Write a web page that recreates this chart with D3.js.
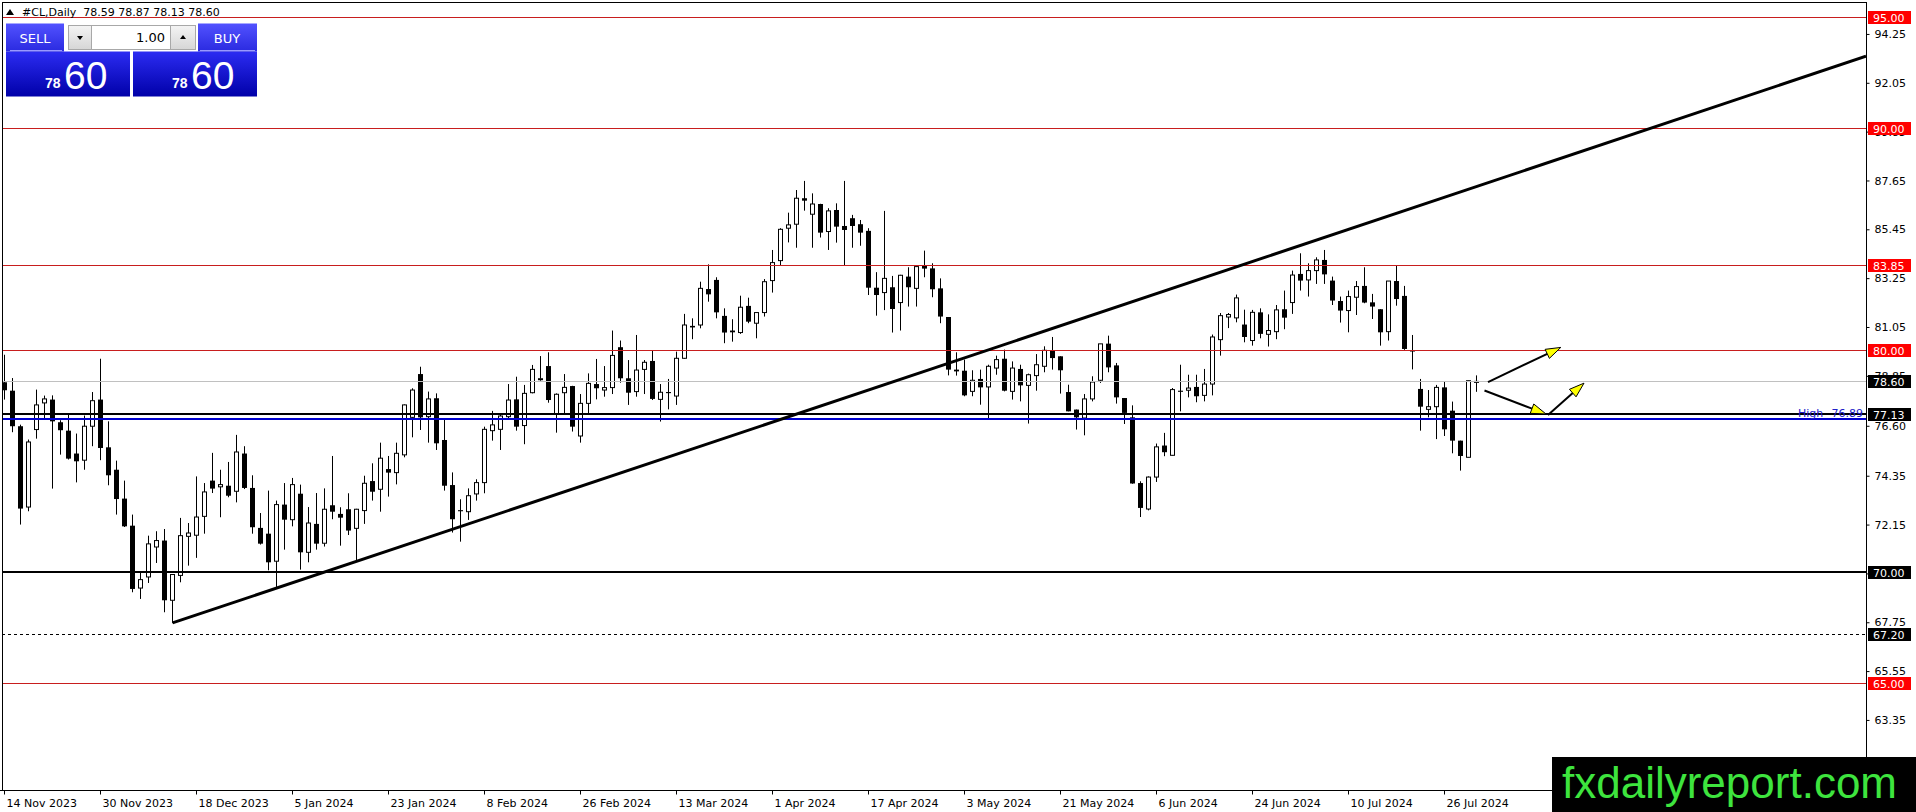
<!DOCTYPE html>
<html lang="en">
<head>
<meta charset="UTF-8">
<title>#CL,Daily</title>
<style>
  html, body { margin: 0; padding: 0; background: #fff; }
  svg { display: block; font-family: "DejaVu Sans", sans-serif; }
</style>
</head>
<body>
<svg width="1916" height="812" id="svg"></svg>
<script src="https://d3js.org/d3.v7.min.js"></script>
<script>
// daily bars, 14 Nov 2023 .. 1 Aug 2024
const opens = [
  78.56, 78.18, 76.58, 72.94, 76.43, 77.63, 77.78, 76.76, 76.38, 75.35,
  75.05, 76.58, 77.78, 75.63, 74.62, 73.32, 72.10, 69.29, 69.79, 71.14,
  71.43, 68.74, 69.86, 71.62, 71.67, 72.52, 74.13, 73.85, 73.90, 73.65,
  75.35, 73.80, 72.00, 71.74, 70.50, 73.05, 72.37, 73.54, 70.90, 72.18,
  71.31, 73.02, 72.63, 72.84, 71.98, 72.78, 74.11, 73.74, 74.65, 74.49,
  75.29, 76.98, 78.93, 77.01, 77.84, 75.96, 73.93, 72.80, 72.73, 73.53,
  74.04, 76.38, 76.44, 77.01, 77.79, 76.61, 78.09, 78.68, 79.29, 77.13,
  78.09, 78.39, 76.14, 77.61, 78.48, 78.21, 78.32, 80.14, 78.74, 78.14,
  79.14, 79.52, 77.79, 78.12, 77.94, 79.64, 81.10, 81.14, 82.76, 83.17,
  81.55, 80.89, 80.80, 82.00, 81.22, 81.70, 83.14, 84.04, 85.50, 85.68,
  86.85, 86.13, 86.59, 85.35, 86.32, 85.60, 85.95, 85.68, 85.38, 82.82,
  82.60, 82.84, 82.15, 83.32, 82.79, 83.80, 83.69, 82.79, 81.50, 79.13,
  79.08, 78.15, 78.71, 78.35, 79.20, 79.62, 78.15, 79.16, 78.42, 78.86,
  79.28, 80.00, 79.73, 78.12, 77.33, 76.95, 77.81, 78.65, 80.30, 79.32,
  77.85, 76.98, 74.02, 72.85, 74.29, 75.71, 75.27, 78.18, 78.20, 78.35,
  77.97, 78.48, 80.48, 81.50, 81.46, 81.16, 80.44, 81.71, 80.72, 80.84,
  81.85, 82.15, 83.44, 83.17, 83.59, 84.07, 83.14, 82.22, 81.79, 82.39,
  82.90, 82.16, 81.85, 80.84, 83.12, 82.45, 79.99, 78.26, 77.34, 77.46,
  78.33, 77.28, 75.93, 75.18, 78.59
]
const highs = [
  79.80, 78.75, 76.65, 75.98, 78.23, 77.96, 77.97, 76.85, 77.10, 76.25,
  77.06, 78.12, 79.62, 76.80, 75.03, 74.13, 72.60, 70.04, 71.65, 71.85,
  71.95, 69.92, 72.45, 72.22, 74.32, 74.02, 75.38, 74.62, 74.97, 76.19,
  75.68, 74.37, 72.67, 73.68, 73.23, 74.02, 74.25, 73.95, 72.94, 73.57,
  73.78, 75.24, 72.93, 73.56, 72.86, 74.35, 74.91, 75.84, 75.24, 75.84,
  77.56, 78.29, 79.26, 78.14, 78.06, 76.94, 74.50, 73.29, 73.78, 74.19,
  76.56, 77.27, 77.16, 78.48, 78.81, 78.44, 79.34, 79.74, 79.91, 78.06,
  78.93, 78.40, 78.03, 78.96, 79.61, 79.29, 80.89, 80.44, 79.56, 80.69,
  79.56, 79.98, 78.48, 78.71, 79.94, 81.64, 81.44, 83.09, 83.87, 83.29,
  81.89, 81.40, 82.46, 82.37, 81.70, 83.21, 84.52, 85.50, 86.20, 87.22,
  87.63, 87.07, 86.60, 86.40, 86.62, 87.63, 86.10, 85.87, 85.50, 83.52,
  86.28, 83.35, 83.40, 83.74, 83.77, 84.49, 83.92, 83.24, 81.50, 79.91,
  79.58, 79.10, 79.13, 79.35, 79.76, 80.03, 79.50, 79.35, 78.95, 79.83,
  80.18, 80.60, 79.73, 78.45, 77.33, 78.03, 78.83, 80.29, 80.66, 79.43,
  77.85, 77.52, 74.10, 74.32, 75.80, 76.28, 78.30, 79.35, 78.90, 78.90,
  79.16, 80.71, 81.68, 81.68, 82.51, 81.83, 81.82, 81.89, 81.62, 82.04,
  82.69, 83.59, 84.37, 83.92, 84.19, 84.52, 83.32, 82.42, 82.69, 83.12,
  83.74, 82.54, 81.85, 83.12, 83.81, 82.90, 80.69, 78.71, 78.21, 78.44,
  78.59, 77.69, 75.93, 78.63, 78.87
]
const lows = [
  77.78, 76.31, 72.15, 72.75, 76.02, 76.95, 73.77, 75.30, 75.08, 74.05,
  74.62, 75.68, 75.05, 73.92, 72.60, 72.04, 69.10, 68.80, 69.52, 70.42,
  68.20, 67.72, 69.55, 70.30, 70.65, 71.74, 73.57, 72.48, 73.38, 73.15,
  73.75, 71.74, 71.25, 70.09, 69.34, 71.02, 72.07, 70.12, 70.45, 71.02,
  71.16, 72.39, 71.20, 71.68, 70.48, 72.18, 73.23, 72.73, 73.41, 73.96,
  75.18, 76.08, 76.41, 75.84, 75.51, 73.68, 71.79, 71.38, 72.36, 73.23,
  73.56, 75.93, 75.51, 76.94, 76.38, 75.77, 78.06, 78.63, 77.64, 76.29,
  77.13, 76.34, 75.84, 77.16, 77.79, 77.91, 78.03, 78.54, 77.54, 77.91,
  78.03, 77.76, 76.79, 77.34, 77.54, 79.62, 80.50, 80.99, 82.19, 81.44,
  80.32, 80.39, 80.74, 81.22, 80.54, 81.52, 82.60, 83.84, 84.86, 84.62,
  86.29, 84.62, 85.08, 84.52, 84.85, 83.84, 84.62, 84.71, 82.49, 81.56,
  81.81, 80.80, 80.89, 81.97, 81.97, 83.29, 82.39, 81.22, 78.87, 78.86,
  77.93, 77.93, 77.55, 76.95, 78.90, 78.15, 77.78, 77.70, 76.70, 78.18,
  79.01, 79.13, 78.05, 77.25, 76.43, 76.17, 77.70, 78.53, 79.01, 77.60,
  76.68, 73.99, 72.49, 72.79, 74.07, 75.23, 75.26, 77.25, 77.88, 77.66,
  77.70, 77.97, 79.76, 81.00, 81.26, 80.36, 80.21, 80.54, 80.17, 80.50,
  80.95, 81.64, 82.69, 82.42, 82.99, 82.99, 82.04, 81.25, 80.81, 81.59,
  82.12, 81.41, 80.21, 80.44, 82.01, 80.02, 79.14, 76.38, 76.98, 76.00,
  76.14, 75.36, 74.58, 75.18, 78.13
]
const closes = [
  78.20, 76.58, 72.87, 75.87, 77.54, 77.81, 76.80, 76.40, 75.12, 75.00,
  76.58, 77.73, 75.60, 74.37, 73.30, 72.07, 69.25, 69.67, 71.28, 71.43,
  68.74, 69.90, 71.65, 71.77, 72.49, 73.62, 73.77, 73.95, 73.45, 75.42,
  73.80, 72.03, 71.29, 70.45, 73.05, 72.37, 73.95, 70.90, 72.22, 71.29,
  72.84, 72.73, 72.46, 71.88, 72.84, 74.01, 73.63, 75.14, 74.49, 75.36,
  77.54, 78.21, 76.98, 77.81, 75.81, 73.90, 72.39, 72.75, 73.45, 74.04,
  76.44, 76.64, 77.04, 77.76, 76.56, 78.06, 79.14, 78.72, 77.76, 78.02,
  78.33, 76.56, 77.61, 78.51, 78.29, 78.32, 79.77, 78.74, 78.09, 79.11,
  79.46, 77.81, 78.11, 78.07, 79.64, 81.14, 81.03, 82.79, 82.52, 81.71,
  80.80, 80.81, 81.94, 81.29, 81.70, 83.09, 83.95, 85.45, 85.65, 86.85,
  86.74, 86.59, 85.30, 86.28, 85.57, 85.42, 85.60, 85.30, 82.82, 82.49,
  83.24, 81.86, 83.38, 82.84, 83.77, 83.68, 82.75, 81.52, 79.13, 79.05,
  77.97, 78.65, 78.33, 79.28, 79.58, 78.18, 79.20, 78.42, 78.90, 79.35,
  80.00, 79.65, 79.10, 77.25, 76.98, 77.81, 78.57, 80.29, 79.23, 77.88,
  77.18, 74.00, 72.90, 74.29, 75.65, 75.41, 78.23, 78.13, 78.30, 77.93,
  78.48, 80.60, 81.56, 81.61, 82.36, 80.60, 81.71, 80.74, 80.89, 81.82,
  81.47, 83.39, 83.14, 83.59, 84.07, 83.42, 82.24, 81.79, 82.42, 82.87,
  82.15, 81.97, 80.81, 83.12, 82.31, 80.06, 79.95, 77.46, 77.46, 78.33,
  76.44, 75.93, 75.24, 78.63, 78.60
]

// time scale labels, one every 12 bars
const dateLabels = ["14 Nov 2023", "30 Nov 2023", "18 Dec 2023", "5 Jan 2024", "23 Jan 2024",
  "8 Feb 2024", "26 Feb 2024", "13 Mar 2024", "1 Apr 2024", "17 Apr 2024", "3 May 2024",
  "21 May 2024", "6 Jun 2024", "24 Jun 2024", "10 Jul 2024", "26 Jul 2024"]
const dateStep = 12

// price scale labels
const priceTicks = [94.25, 92.05, 89.85, 87.65, 85.45, 83.25, 81.05, 78.85, 76.60, 74.35, 72.15, 69.95, 67.75, 65.55, 63.35]

// horizontal levels drawn on the chart
const redLevels = [95.00, 90.00, 83.85, 80.00, 65.00]
const blackLevels = [77.13, 70.00]
const dottedLevel = 67.20
const bidPrice = 78.60
const highLevel = 76.89

// trend line (bar index, price) and the hand drawn arrows
const trendPoints = [[21, 67.72], [154.8, 83.85]]
const arrows = [
  [[185.5, 78.57], [194.6, 80.13]],
  [[185.06, 78.19], [192.75, 77.13]],
  [[193.0, 77.09], [197.5, 78.52]]
]

const header = "#CL,Daily  78.59 78.87 78.13 78.60"
const lotSize = "1.00"
const bidBig = ["78", "60"]
const askBig = ["78", "60"]

// ------------------------------------------------------------
const svg = d3.select("svg#svg")
const W = +svg.attr("width")
const H = +svg.attr("height")
const plot = { left: 2, top: 2, right: 1866, bottom: 790 }

const xScale = d3.scaleLinear().domain([0, 184]).range([4, 1476])
const yScale = d3.scaleLinear().domain([90, 70]).range([128.3, 572.3])

svg.append("rect").attr("width", W).attr("height", H).attr("fill", "#fff")

const defs = svg.append("defs")
defs.append("clipPath").attr("id", "plotClip").append("rect")
  .attr("x", plot.left).attr("y", plot.top)
  .attr("width", plot.right - plot.left).attr("height", plot.bottom - plot.top)

const g = svg.append("g").attr("clip-path", "url(#plotClip)")

// candles
const bars = opens.map((o, i) => ({ i: i, o: o, h: highs[i], l: lows[i], c: closes[i] }))
const px = d => Math.round(xScale(d.i))

g.append("g").selectAll("line").data(bars).join("line")
  .attr("x1", d => px(d) + 0.5).attr("x2", d => px(d) + 0.5)
  .attr("y1", d => yScale(d.h)).attr("y2", d => yScale(d.l))
  .attr("stroke", "#000").attr("stroke-width", 1)

g.append("g").selectAll("rect").data(bars).join("rect")
  .attr("x", d => d.c >= d.o ? px(d) - 1.5 : px(d) - 2)
  .attr("width", d => d.c >= d.o ? 4 : 5)
  .attr("y", d => yScale(Math.max(d.o, d.c)))
  .attr("height", d => Math.max(1, yScale(Math.min(d.o, d.c)) - yScale(Math.max(d.o, d.c))))
  .attr("fill", d => d.c >= d.o ? "#fff" : "#000")
  .attr("stroke", d => d.c >= d.o ? "#000" : "none")
  .attr("stroke-width", 1)

// levels
const hline = (p, color, w, dash) => {
  const yy = Math.round(yScale(p)) + (w % 2 ? 0.5 : 0)
  const l = g.append("line").attr("x1", plot.left).attr("x2", plot.right)
    .attr("y1", yy).attr("y2", yy).attr("stroke", color).attr("stroke-width", w)
  if (dash) l.attr("stroke-dasharray", dash)
}
redLevels.forEach(p => hline(p, "#c81e1e", 1))
hline(bidPrice, "#c0c0c0", 1)
hline(highLevel, "#0000d0", 2)
blackLevels.forEach(p => hline(p, "#000", 2))
hline(dottedLevel, "#000", 1, "3,3")

// trend line, extended to the right edge
const slope = (trendPoints[1][1] - trendPoints[0][1]) / (trendPoints[1][0] - trendPoints[0][0])
const endBar = xScale.invert(plot.right)
g.append("line")
  .attr("x1", xScale(trendPoints[0][0]) + 0.5).attr("y1", yScale(trendPoints[0][1]))
  .attr("x2", xScale(endBar)).attr("y2", yScale(trendPoints[0][1] + slope * (endBar - trendPoints[0][0])))
  .attr("stroke", "#000").attr("stroke-width", 3)

// arrows with yellow heads
arrows.forEach(a => {
  const x0 = xScale(a[0][0]), y0 = yScale(a[0][1])
  const x1 = xScale(a[1][0]), y1 = yScale(a[1][1])
  const len = Math.hypot(x1 - x0, y1 - y0)
  const ux = (x1 - x0) / len, uy = (y1 - y0) / len
  const hl = 15, hw = 5
  const bx = x1 - ux * hl, by = y1 - uy * hl
  g.append("line").attr("x1", x0).attr("y1", y0).attr("x2", bx).attr("y2", by)
    .attr("stroke", "#000").attr("stroke-width", 2)
  g.append("path")
    .attr("d", `M${x1},${y1}L${bx - uy * hw},${by + ux * hw}L${bx + uy * hw},${by - ux * hw}Z`)
    .attr("fill", "#ffff00").attr("stroke", "#000").attr("stroke-width", 1)
})

// "High" label of the blue line
g.append("text").attr("x", 1798).attr("y", yScale(highLevel) - 2.5)
  .attr("font-size", 11).attr("fill", "#2020c8").text("High")
g.append("text").attr("x", 1863).attr("y", yScale(highLevel) - 2.5)
  .attr("text-anchor", "end").attr("font-size", 11).attr("fill", "#2020c8")
  .text(highLevel.toFixed(2))

// frame
const frame = svg.append("g").attr("stroke", "#000").attr("stroke-width", 1)
frame.append("line").attr("x1", plot.left).attr("x2", plot.right + 1).attr("y1", plot.top + 0.5).attr("y2", plot.top + 0.5)
frame.append("line").attr("x1", plot.left + 0.5).attr("x2", plot.left + 0.5).attr("y1", plot.top).attr("y2", plot.bottom)
frame.append("line").attr("x1", plot.right + 0.5).attr("x2", plot.right + 0.5).attr("y1", plot.top).attr("y2", plot.bottom)
frame.append("line").attr("x1", 0).attr("x2", W).attr("y1", plot.bottom + 0.5).attr("y2", plot.bottom + 0.5)

// price axis
const yAxis = d3.axisRight(yScale).tickValues(priceTicks).tickSize(3).tickPadding(5)
  .tickFormat(d3.format(".2f"))
svg.append("g").attr("transform", `translate(${plot.right + 0.5},0)`).call(yAxis)
  .call(a => a.select(".domain").remove())
  .call(a => a.selectAll("text").attr("font-size", 11).attr("font-family", "DejaVu Sans").attr("fill", "#000"))

// price boxes
const boxes = redLevels.map(p => ({ p: p, bg: "#ff0000" }))
  .concat([bidPrice].concat(blackLevels, [dottedLevel]).map(p => ({ p: p, bg: "#000" })))
const bg = svg.append("g")
bg.selectAll("rect").data(boxes).join("rect")
  .attr("x", plot.right + 2).attr("y", d => Math.round(yScale(d.p)) - 6)
  .attr("width", 43).attr("height", 13).attr("fill", d => d.bg)
bg.selectAll("text").data(boxes).join("text")
  .attr("x", plot.right + 7).attr("y", d => Math.round(yScale(d.p)) + 5)
  .attr("font-size", 11).attr("fill", "#fff").text(d => d.p.toFixed(2))

// time axis
const xAxis = d3.axisBottom(xScale).tickValues(d3.range(0, dateLabels.length * dateStep, dateStep))
  .tickSize(4).tickPadding(5).tickFormat((d, i) => dateLabels[i])
svg.append("g").attr("transform", `translate(0,${plot.bottom + 0.5})`).call(xAxis)
  .call(a => a.select(".domain").remove())
  .call(a => a.selectAll("text").attr("text-anchor", "start").attr("dx", 2)
    .attr("font-size", 11).attr("font-family", "DejaVu Sans").attr("fill", "#000"))

// header
svg.append("path").attr("d", "M6,15L10,9L14,15Z").attr("fill", "#000")
svg.append("text").attr("x", 22).attr("y", 16).attr("font-size", 11)
  .style("white-space", "pre").text(header)

// one click trading panel
const grad = (id, c0, c1) => {
  const lg = defs.append("linearGradient").attr("id", id).attr("x1", 0).attr("x2", 0).attr("y1", 0).attr("y2", 1)
  lg.append("stop").attr("offset", "0%").attr("stop-color", c0)
  lg.append("stop").attr("offset", "100%").attr("stop-color", c1)
}
grad("btnGrad", "#5252ff", "#2a2ae0")
grad("bigGrad", "#2c2cf2", "#0000a8")
grad("grayGrad", "#f4f4f4", "#d6d6d6")

const panel = svg.append("g")
panel.append("rect").attr("x", 6).attr("y", 51.5).attr("width", 124).attr("height", 45).attr("fill", "url(#bigGrad)")
panel.append("rect").attr("x", 133).attr("y", 51.5).attr("width", 124).attr("height", 45).attr("fill", "url(#bigGrad)")
panel.append("rect").attr("x", 6).attr("y", 23.5).attr("width", 58).attr("height", 28).attr("fill", "url(#btnGrad)")
panel.append("rect").attr("x", 198).attr("y", 23.5).attr("width", 59).attr("height", 28).attr("fill", "url(#btnGrad)")
panel.append("line").attr("x1", 10).attr("x2", 62).attr("y1", 50.5).attr("y2", 50.5).attr("stroke", "#9a9aff")
panel.append("line").attr("x1", 200).attr("x2", 255).attr("y1", 50.5).attr("y2", 50.5).attr("stroke", "#9a9aff")
panel.append("rect").attr("x", 68.5).attr("y", 25.5).attr("width", 23).attr("height", 24)
  .attr("fill", "url(#grayGrad)").attr("stroke", "#a8a8a8")
panel.append("rect").attr("x", 91.5).attr("y", 25.5).attr("width", 79).attr("height", 24)
  .attr("fill", "#fff").attr("stroke", "#a8a8a8")
panel.append("rect").attr("x", 170.5).attr("y", 25.5).attr("width", 25).attr("height", 24)
  .attr("fill", "url(#grayGrad)").attr("stroke", "#a8a8a8")
panel.append("path").attr("d", "M77,36L83,36L80,40Z").attr("fill", "#000")
panel.append("path").attr("d", "M180,39L186,39L183,35Z").attr("fill", "#000")
panel.append("text").attr("x", 165).attr("y", 42).attr("text-anchor", "end")
  .attr("font-size", 13).attr("fill", "#000").text(lotSize)
panel.append("text").attr("x", 35).attr("y", 43).attr("text-anchor", "middle")
  .attr("font-size", 13).attr("fill", "#fff").text("SELL")
panel.append("text").attr("x", 227).attr("y", 43).attr("text-anchor", "middle")
  .attr("font-size", 13).attr("fill", "#fff").text("BUY")
const bigPrice = (x0, parts) => {
  panel.append("text").attr("x", x0).attr("y", 87.5).attr("font-family", "Liberation Sans")
    .attr("font-weight", "bold").attr("font-size", 14).attr("fill", "#fff").text(parts[0])
  panel.append("text").attr("x", x0 + 19).attr("y", 88.5).attr("font-family", "Liberation Sans")
    .attr("font-size", 39).attr("fill", "#fff").text(parts[1])
}
bigPrice(45, bidBig)
bigPrice(172, askBig)

// watermark
svg.append("rect").attr("x", 1552).attr("y", 757).attr("width", W - 1552).attr("height", H - 757).attr("fill", "#000")
svg.append("text").attr("x", 1562).attr("y", 798).attr("font-family", "Liberation Sans")
  .attr("font-size", 44).attr("fill", "#3ee43e").text("fxdailyreport.com")
</script>
</body>
</html>
